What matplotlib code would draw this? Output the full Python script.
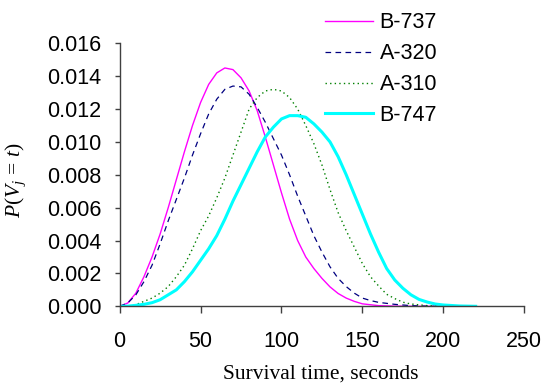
import matplotlib
matplotlib.use("Agg")
import matplotlib.pyplot as plt

# ---- data (time in seconds, probability) ----
t_b737 = [0, 5, 10, 15, 20, 25, 30, 35, 40, 45, 50, 55, 60, 65, 70, 75, 80, 85, 90, 95,
          100, 105, 110, 115, 120, 125, 130, 135, 140, 145, 150, 160, 170, 180, 190, 200]
p_b737 = [0, 0.0002, 0.0008, 0.0018, 0.0030, 0.0044, 0.0060, 0.0077, 0.0094, 0.0110,
          0.0124, 0.0135, 0.0142, 0.0145, 0.0144, 0.0139, 0.0131, 0.0119, 0.0103, 0.0086,
          0.0069, 0.0053, 0.0040, 0.0030, 0.0023, 0.0017, 0.00118, 0.00078, 0.0005,
          0.0003, 0.00015, 0.00004, 0.00001, 0, 0, 0]

t_a320 = [0, 5, 10, 15, 20, 25, 30, 35, 40, 45, 50, 55, 60, 65, 70, 75, 80, 85, 90, 95,
          100, 105, 110, 115, 120, 125, 130, 135, 140, 145, 150, 155, 160, 170, 180, 190, 200]
p_a320 = [0, 0.0002, 0.0007, 0.0015, 0.0025, 0.0038, 0.0052, 0.0065, 0.0078, 0.0092,
          0.0105, 0.0117, 0.0126, 0.0132, 0.0134, 0.01335, 0.0129, 0.0121, 0.0112, 0.0102,
          0.0092, 0.0080, 0.0067, 0.0055, 0.0043, 0.0033, 0.0024, 0.0017, 0.0012, 0.0008,
          0.0005, 0.00035, 0.00024, 0.00012, 0.00004, 0.00001, 0]

t_a310 = [0, 5, 10, 15, 20, 25, 30, 35, 40, 45, 50, 55, 60, 65, 70, 75, 80, 85, 90, 95,
          100, 105, 110, 115, 120, 125, 130, 135, 140, 145, 150, 155, 160, 165, 170, 175,
          180, 190, 200, 210]
p_a310 = [0, 0.00002, 0.0001, 0.0003, 0.0005, 0.0008, 0.0012, 0.0018, 0.0025, 0.0035,
          0.0046, 0.0055, 0.0066, 0.0078, 0.0092, 0.0106, 0.0120, 0.0127, 0.0131, 0.0132,
          0.0131, 0.0127, 0.0120, 0.0110, 0.0099, 0.0086, 0.0071, 0.0057, 0.0046, 0.0036,
          0.0026, 0.0018, 0.00124, 0.00073, 0.00047, 0.00025, 0.00014, 0.00004, 0.00001, 0]

t_b747 = [0, 5, 10, 15, 20, 25, 30, 35, 40, 45, 50, 55, 60, 65, 70, 75, 80, 85, 90, 95,
          100, 105, 110, 115, 120, 125, 130, 135, 140, 145, 150, 155, 160, 165, 170, 175,
          180, 185, 190, 195, 200, 210, 220]
p_b747 = [0, 0.00001, 0.00006, 0.00012, 0.00022, 0.0004, 0.0007, 0.0010, 0.0015, 0.0021,
          0.0028, 0.0035, 0.0043, 0.0053, 0.0064, 0.0074, 0.0084, 0.0094, 0.0103, 0.0109,
          0.0114, 0.0116, 0.0116, 0.0115, 0.0111, 0.0106, 0.0100, 0.0091, 0.0080, 0.0068,
          0.0056, 0.0044, 0.0033, 0.0023, 0.0016, 0.0011, 0.0007, 0.00042, 0.00026,
          0.00014, 0.00008, 0.00002, 0]

labels = ["B-737", "A-320", "A-310", "B-747"]
x_ticks = [0, 50, 100, 150, 200, 250]
y_ticks = [0.000, 0.002, 0.004, 0.006, 0.008, 0.010, 0.012, 0.014, 0.016]

# ---- styling ----
plt.rcParams['font.family'] = ['Liberation Sans', 'DejaVu Sans']
plt.rcParams['mathtext.fontset'] = 'custom'
plt.rcParams['mathtext.rm'] = 'Liberation Serif'
plt.rcParams['mathtext.it'] = 'Liberation Serif:italic'

fig = plt.figure(figsize=(5.44, 3.85), dpi=100)
ax = fig.add_axes([0.220, 0.2044, 0.7436, 0.6831])

ax.plot(t_b737, p_b737, color='#FF00FF', lw=1.0, label=labels[0])
ax.plot(t_a320, p_a320, color='#000080', lw=0.9, ls=(0, (4.5, 3.5)), label=labels[1])
ax.plot(t_a310, p_a310, color='#008000', lw=1.0, ls=(0, (1, 2.3)), label=labels[2])
ax.plot(t_b747, p_b747, color='#00FFFF', lw=2.2, label=labels[3])

ax.set_xlim(0, 250)
ax.set_ylim(0, 0.016)
ax.set_xticks(x_ticks)
ax.set_yticks(y_ticks)
ax.set_yticklabels([f"{v:.3f}" for v in y_ticks])

for s in ['top', 'right']:
    ax.spines[s].set_visible(False)
for s in ['left', 'bottom']:
    ax.spines[s].set_color('#404040')
    ax.spines[s].set_linewidth(1.0)

ax.tick_params(axis='y', direction='out', length=3.6, width=1.0, color='#404040',
               labelsize=15.5, pad=9.5)
ax.tick_params(axis='x', direction='out', length=5, width=1.0, color='#404040',
               labelsize=15.5, pad=13)

fig.text(0.590, 0.003, "Survival time, seconds", ha='center', va='bottom',
         fontsize=15.5, family='Liberation Serif')
fig.text(0.0285, 0.532, r"$P(V_j\,=\,t)$", rotation=90, ha='center', va='center',
         fontsize=15.5)

ax.legend(loc='upper left', bbox_to_anchor=(325 / 544, 0.968),
          bbox_transform=fig.transFigure, frameon=False, fontsize=15.5,
          handlelength=2.25, handletextpad=0.28, labelspacing=0.46,
          borderpad=0, borderaxespad=0)

fig.savefig("out.png", dpi=100)
